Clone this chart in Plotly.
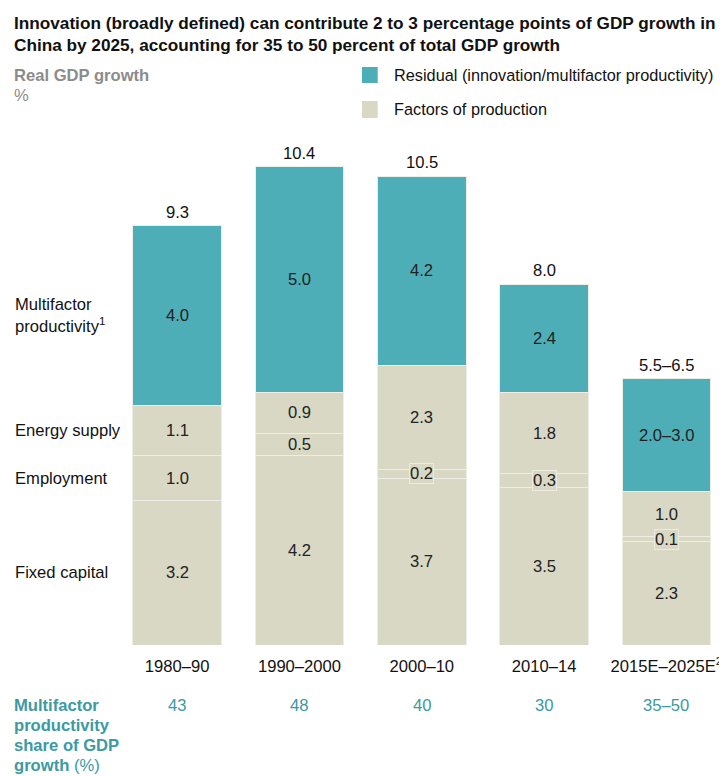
import plotly.graph_objects as go

periods = ["1980–90", "1990–2000", "2000–10", "2010–14", "2015E–2025E<sup>2</sup>"]
fixed_capital = [3.2, 4.2, 3.7, 3.5, 2.3]
employment = [1.0, 0.5, 0.2, 0.3, 0.1]
energy_supply = [1.1, 0.9, 2.3, 1.8, 1.0]
mfp = [4.0, 5.0, 4.2, 2.4, 2.5]
mfp_labels = ["4.0", "5.0", "4.2", "2.4", "2.0–3.0"]
total_labels = ["9.3", "10.4", "10.5", "8.0", "5.5–6.5"]
mfp_share = ["43", "48", "40", "30", "35–50"]
segment_names = ["Fixed capital", "Employment", "Energy supply", "Multifactor<br>productivity<sup>1</sup>"]
share_title = ["<b>Multifactor</b>", "<b>productivity</b>", "<b>share of GDP</b>", "<b>growth</b> (%)"]
title_lines = [
    "<b>Innovation (broadly defined) can contribute 2 to 3 percentage points of GDP growth in</b>",
    "<b>China by 2025, accounting for 35 to 50 percent of total GDP growth</b>",
]

TEAL = "#4daeb8"
BEIGE = "#d9d8c5"
TEAL_TEXT = "#3b9aa2"
FONT = "Liberation Sans, Arial, sans-serif"
FS = 16.6

# plot area: 515 px tall
PH = 515.0


def py(px_from_bottom):
    # paper y for a pixel offset above (positive) / below (negative) the plot bottom
    return px_from_bottom / PH


fig = go.Figure()
layers = [fixed_capital, employment, energy_supply, mfp]
colors = [BEIGE, BEIGE, BEIGE, TEAL]
for vals, col in zip(layers, colors):
    fig.add_trace(go.Bar(
        x=periods, y=vals, marker=dict(color=col, line=dict(color="#eeeee6", width=1)),
        showlegend=False, hoverinfo="skip",
    ))

annotations = []
for i, p in enumerate(periods):
    base = 0
    for k, vals in enumerate(layers):
        v = vals[i]
        label = mfp_labels[i] if k == 3 else f"{v:.1f}"
        small = v < 0.4
        annotations.append(dict(
            x=p, y=base + v / 2, xref="x", yref="y", text=label, showarrow=False,
            yanchor="middle", font=dict(size=FS, color="#222"),
            bgcolor=BEIGE if small else None,
            bordercolor="#ecebe0" if small else None,
            borderwidth=1 if small else 0, borderpad=0,
        ))
        base += v
    annotations.append(dict(
        x=p, y=base, xref="x", yref="y", text=total_labels[i], showarrow=False,
        yanchor="bottom", yshift=2, font=dict(size=FS, color="#111"),
    ))
    annotations.append(dict(
        x=p, y=py(-60), xref="x", yref="paper", text=mfp_share[i], showarrow=False,
        yanchor="middle", font=dict(size=FS, color=TEAL_TEXT),
    ))

# left row labels aligned to first bar's segments
base = 0
for k, vals in enumerate(layers):
    v = vals[0]
    annotations.append(dict(
        x=-0.17, y=base + v / 2, xref="paper", yref="y", text=segment_names[k],
        showarrow=False, xanchor="left", yanchor="middle", align="left",
        font=dict(size=FS, color="#111"),
    ))
    base += v

for j, line in enumerate(share_title):
    annotations.append(dict(
        x=-0.172, y=py(-60 - j * 20), xref="paper", yref="paper", xanchor="left",
        yanchor="middle", showarrow=False, text=line, font=dict(size=FS, color=TEAL_TEXT),
    ))

for j, line in enumerate(title_lines):
    annotations.append(dict(
        x=-0.172, y=py(622 - j * 22), xref="paper", yref="paper", xanchor="left",
        yanchor="middle", showarrow=False, text=line, font=dict(size=17.2, color="#111")),
    )

annotations += [
    dict(x=-0.172, y=py(570), xref="paper", yref="paper", xanchor="left", yanchor="middle",
         showarrow=False, text="<b>Real GDP growth</b>", font=dict(size=FS, color="#8c8c8c")),
    dict(x=-0.172, y=py(549), xref="paper", yref="paper", xanchor="left", yanchor="middle",
         showarrow=False, text="%", font=dict(size=FS, color="#8c8c8c")),
    dict(x=0.4574, y=py(570), xref="paper", yref="paper", xanchor="left", yanchor="middle",
         showarrow=False, text="Residual (innovation/multifactor productivity)",
         font=dict(size=16.3, color="#111")),
    dict(x=0.4574, y=py(536), xref="paper", yref="paper", xanchor="left", yanchor="middle",
         showarrow=False, text="Factors of production", font=dict(size=16.3, color="#111")),
]

shapes = [
    dict(type="rect", xref="paper", yref="paper", x0=0.408, x1=0.434, y0=py(562), y1=py(578),
         fillcolor=TEAL, line=dict(width=0)),
    dict(type="rect", xref="paper", yref="paper", x0=0.408, x1=0.434, y0=py(527), y1=py(544),
         fillcolor=BEIGE, line=dict(width=0)),
]

fig.update_layout(
    barmode="stack", bargap=0.276,
    width=719, height=768,
    margin=dict(l=108, r=5, t=122, b=131),
    paper_bgcolor="white", plot_bgcolor="white",
    font=dict(family=FONT, size=FS, color="#111"),
    annotations=annotations, shapes=shapes,
    xaxis=dict(range=[-0.5, 4.43], showgrid=False, zeroline=False, showline=False,
               ticks="outside", ticklen=6, tickcolor="rgba(0,0,0,0)",
               tickfont=dict(size=FS, color="#111")),
    yaxis=dict(range=[0, 11.42], visible=False),
)

fig.write_html("out.html")
